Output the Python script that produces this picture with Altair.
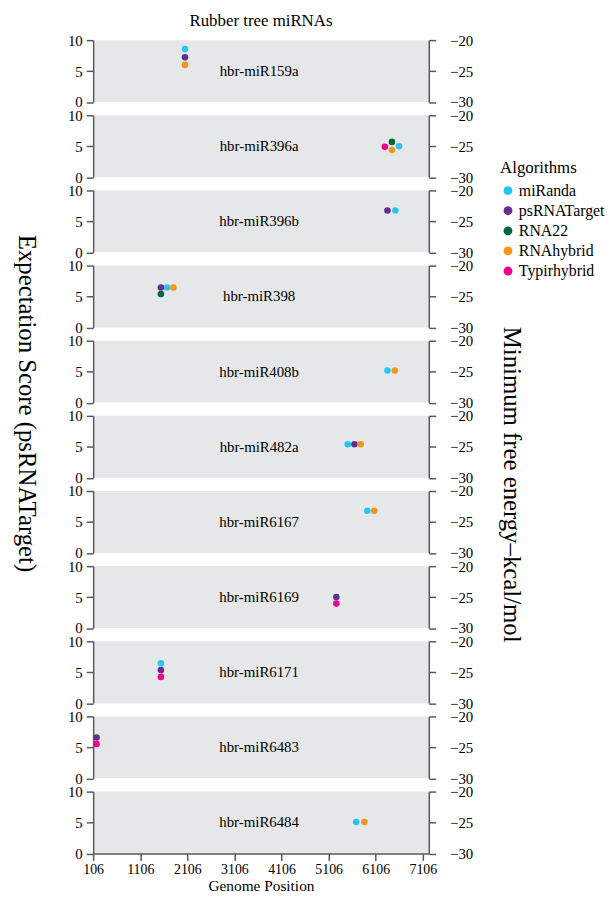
import altair as alt
import pandas as pd

SERIF = "Liberation Serif"

mirnas = ["hbr-miR159a", "hbr-miR396a", "hbr-miR396b", "hbr-miR398", "hbr-miR408b",
          "hbr-miR482a", "hbr-miR6167", "hbr-miR6169", "hbr-miR6171", "hbr-miR6483",
          "hbr-miR6484"]
algos = ["miRanda", "psRNATarget", "RNA22", "RNAhybrid", "Typirhybrid"]
algo_colors = ["#27C4F4", "#662D91", "#006838", "#F7941D", "#EC008C"]
x_ticks = [106, 1106, 2106, 3106, 4106, 5106, 6106, 7106]

point_mirna = ["hbr-miR159a", "hbr-miR159a", "hbr-miR159a",
               "hbr-miR396a", "hbr-miR396a", "hbr-miR396a", "hbr-miR396a",
               "hbr-miR396b", "hbr-miR396b",
               "hbr-miR398", "hbr-miR398", "hbr-miR398", "hbr-miR398",
               "hbr-miR408b", "hbr-miR408b",
               "hbr-miR482a", "hbr-miR482a", "hbr-miR482a",
               "hbr-miR6167", "hbr-miR6167",
               "hbr-miR6169", "hbr-miR6169",
               "hbr-miR6171", "hbr-miR6171", "hbr-miR6171",
               "hbr-miR6483", "hbr-miR6483",
               "hbr-miR6484", "hbr-miR6484"]
point_algo = ["miRanda", "psRNATarget", "RNAhybrid",
              "Typirhybrid", "RNA22", "RNAhybrid", "miRanda",
              "psRNATarget", "miRanda",
              "psRNATarget", "miRanda", "RNAhybrid", "RNA22",
              "miRanda", "RNAhybrid",
              "miRanda", "psRNATarget", "RNAhybrid",
              "miRanda", "RNAhybrid",
              "psRNATarget", "Typirhybrid",
              "miRanda", "psRNATarget", "Typirhybrid",
              "psRNATarget", "Typirhybrid",
              "miRanda", "RNAhybrid"]
point_pos = [2056, 2056, 2056,
             6300, 6450, 6450, 6600,
             6355, 6523,
             1545, 1678, 1810, 1545,
             6355, 6510,
             5513, 5654, 5787,
             5928, 6075,
             5269, 5269,
             1545, 1545, 1545,
             178, 178,
             5690, 5864]
point_score = [8.55, 7.25, 6.0,
               4.9, 5.7, 4.4, 5.0,
               6.75, 6.75,
               6.45, 6.45, 6.45, 5.4,
               5.2, 5.2,
               5.4, 5.4, 5.4,
               6.8, 6.8,
               5.0, 3.95,
               6.45, 5.35, 4.25,
               6.6, 5.55,
               5.1, 5.1]

df = pd.DataFrame({"mirna": point_mirna, "algo": point_algo,
                   "pos": point_pos, "score": point_score})

AX = dict(domainColor="#58595b", tickColor="#58595b", domainWidth=1.5, tickWidth=1.5,
          tickSize=7, labelFont=SERIF, labelColor="black", grid=False)
TITLE = dict(titleFont=SERIF, titleFontWeight="normal", titleColor="black")

x_scale = alt.Scale(domain=[106, 7232], nice=False, zero=False)
color_enc = alt.Color(
    "algo:N", scale=alt.Scale(domain=algos, range=algo_colors),
    legend=alt.Legend(title="Algorithms", orient="none", legendX=411, legendY=121,
                      symbolType="circle", symbolSize=80, symbolStrokeWidth=0,
                      symbolOpacity=1, labelFont=SERIF, labelFontSize=16,
                      labelColor="black", titleFont=SERIF, titleFontSize=17,
                      titleFontWeight="normal", titleColor="black",
                      rowPadding=4.3, labelOffset=3, titlePadding=6))

n = len(mirnas)
panels = []
for i, m in enumerate(mirnas):
    last = i == n - 1
    mid = i == 5
    if last:
        x_axis = alt.Axis(values=x_ticks, format="d", title="Genome Position",
                          titleFontSize=15.5, titlePadding=2, labelPadding=2,
                          labelFontSize=14, labelOverlap=False, labelFlush=False,
                          **TITLE, **AX)
    else:
        x_axis = None
    left_axis = alt.Axis(values=[0, 5, 10], orient="left", labelPadding=4, labelFontSize=15,
                         title="Expectation Score (psRNATarget)" if mid else None,
                         titleFontSize=25, titleAngle=90, titleAlign="center",
                         titleBaseline="middle", titleX=-67, titleY=-13, **TITLE, **AX)
    right_axis = alt.Axis(values=[-30, -25, -20], orient="right", labelPadding=14,
                          labelFontSize=15,
                          title="Minimum free energy\u2013kcal/mol" if mid else None,
                          titleFontSize=25, titleAngle=90, titleAlign="center",
                          titleBaseline="middle", titleX=83, titleY=69, **TITLE, **AX)

    base = alt.Chart(df).transform_filter(alt.datum.mirna == m)
    pts = base.mark_circle(size=44, opacity=1).encode(
        x=alt.X("pos:Q", scale=x_scale, axis=x_axis),
        y=alt.Y("score:Q", scale=alt.Scale(domain=[0, 10], nice=False), axis=left_axis),
        color=color_enc,
    )
    lab = base.transform_aggregate(cnt="count()", groupby=["mirna"]).mark_text(
        font=SERIF, fontSize=15, color="black"
    ).encode(
        x=alt.datum(3630),
        y=alt.YDatum(-25, scale=alt.Scale(domain=[-30, -20], nice=False), axis=right_axis),
        text="mirna:N",
    )
    props = dict(width=339, height=62.5)
    if i == 0:
        props["title"] = alt.TitleParams("Rubber tree miRNAs", font=SERIF, fontSize=17,
                                         fontWeight="normal", color="black", offset=3)
    panels.append(alt.layer(pts, lab).resolve_scale(y="independent").properties(**props))

chart = alt.vconcat(*panels, spacing=12.9, bounds="flush").properties(
    padding={"left": 5, "top": 0, "right": 0, "bottom": 0},
).configure_view(fill="#E6E7E8", stroke=None)

chart.save("out.html", embed_options={"renderer": "svg", "actions": False})
